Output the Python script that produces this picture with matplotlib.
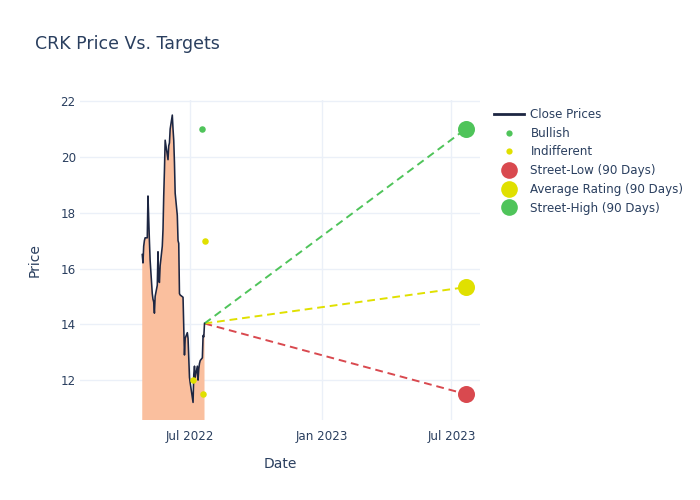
import pandas as pd
import matplotlib
matplotlib.use("Agg")
import matplotlib.pyplot as plt
from matplotlib.lines import Line2D

# Close prices (trading days Apr 25 - Jul 21, 2022)
holidays = ["2022-05-30", "2022-06-20", "2022-07-04"]
dates = pd.bdate_range("2022-04-25", "2022-07-21")
dates = dates[~dates.isin(pd.to_datetime(holidays))]
close = [16.5, 16.2, 16.8, 17.0, 17.1,
         17.1, 18.6, 17.8, 17.0, 16.3, 15.1, 14.9, 14.8, 14.4, 15.0,
         15.4, 16.6, 15.6, 15.5, 16.1, 16.8, 17.4, 18.6, 19.5, 20.6, 19.9,
         20.4, 20.5, 21.0, 21.5, 21.0, 20.6, 19.8, 18.7, 17.9, 17.0, 16.9,
         15.1, 15.05, 14.97, 13.9, 12.9, 13.5, 13.7, 13.5, 12.8, 12.1,
         11.9, 11.2, 12.2, 12.5, 12.1, 12.5, 12.0, 12.4, 12.6, 12.7,
         12.8, 13.6, 13.55, 14.03]

# analyst ratings
bullish_dates = pd.to_datetime(["2022-07-18"])
bullish_vals = [21.0]
indiff_dates = pd.to_datetime(["2022-07-21", "2022-07-05", "2022-07-19"])
indiff_vals = [17.0, 12.0, 11.5]

# 90-day targets
target_date = pd.Timestamp("2023-07-21")
target_labels = ["Street-Low (90 Days)", "Average Rating (90 Days)", "Street-High (90 Days)"]
target_vals = [11.5, 15.33, 21.0]
target_colors = ["#d9494f", "#e0e000", "#4fc45a"]

text_c = "#2a3f5f"
grid_c = "#ebf0f8"

fig = plt.figure(figsize=(7, 5), dpi=100)
ax = fig.add_axes([80 / 700, 80 / 500, 400 / 700, 320 / 500])

ax.fill_between(dates, close, 0, color="#fabf9e", lw=0, zorder=1)
ax.plot(dates, close, color="#1d2642", lw=1.15, zorder=3)

last_d, last_v = dates[-1], close[-1]
for v, c in zip(target_vals, target_colors):
    ax.plot([last_d, target_date], [last_v, v], color=c, lw=1.4, ls=(0, (4, 2.5)), zorder=2)
    ax.scatter([target_date], [v], s=150, color=c, zorder=4, lw=0)

ax.scatter(bullish_dates, bullish_vals, s=22, color="#4fc45a", zorder=4, lw=0)
ax.scatter(indiff_dates, indiff_vals, s=22, color="#e0e000", zorder=4, lw=0)

ax.set_xlim(pd.Timestamp("2022-01-28"), pd.Timestamp("2023-08-10"))
ax.set_ylim(10.57, 22.04)
ax.set_yticks([12, 14, 16, 18, 20, 22])
ax.set_xticks(pd.to_datetime(["2022-07-01", "2023-01-01", "2023-07-01"]))
ax.set_xticklabels(["Jul 2022", "Jan 2023", "Jul 2023"])
ax.grid(True, color=grid_c, lw=1)
ax.set_axisbelow(True)
for s in ax.spines.values():
    s.set_visible(False)
ax.tick_params(length=0, colors=text_c, labelsize=8.6)
ax.tick_params(axis="x", pad=7)
ax.tick_params(axis="y", pad=3)
ax.set_xlabel("Date", color=text_c, fontsize=10, labelpad=10)
ax.set_ylabel("Price", color=text_c, fontsize=10, labelpad=14)

fig.text(35 / 700, 1 - 44 / 500, "CRK Price Vs. Targets", color=text_c, fontsize=12.5, va="center")

handles = [
    Line2D([], [], color="#1d2642", lw=2),
    Line2D([], [], ls="", marker="o", ms=4.5, color="#4fc45a", mew=0),
    Line2D([], [], ls="", marker="o", ms=4.5, color="#e0e000", mew=0),
]
labels = ["Close Prices", "Bullish", "Indifferent"]
for c, l in zip(target_colors, target_labels):
    handles.append(Line2D([], [], ls="", marker="o", ms=12, color=c, mew=0))
    labels.append(l)
leg = fig.legend(handles, labels, loc="upper left", bbox_to_anchor=(494 / 700, 1 - 108 / 500),
                 frameon=False, fontsize=8.6, labelcolor=text_c, handlelength=2.5,
                 handletextpad=0.55, labelspacing=0.48, borderaxespad=0, borderpad=0)

fig.savefig("out.png", dpi=100)
